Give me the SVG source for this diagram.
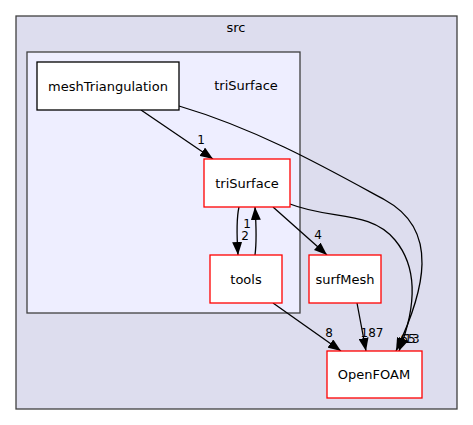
<svg xmlns="http://www.w3.org/2000/svg" width="473" height="425" viewBox="0 0 473 425">
<defs>
<style>
text{font-family:"DejaVu Sans",sans-serif;font-size:13px;fill:#000}
.c{text-anchor:middle}
.l{font-size:12px}
.node{fill:#fff;stroke:#ff0000;stroke-width:1.3}
.edge{fill:none;stroke:#000;stroke-width:1.3}
</style>
<marker id="ah" viewBox="0 0 13 10" refX="13" refY="5" markerWidth="13" markerHeight="10" markerUnits="userSpaceOnUse" orient="auto">
<path d="M0,0 L13,5 L0,10 Z" fill="#000"/>
</marker>
</defs>
<rect x="0" y="0" width="473" height="425" fill="#fff"/>
<g id="cluster_src">
<rect x="16" y="16" width="441" height="393" fill="#ddddee" stroke="#404040" stroke-width="1.3"/>
<text class="c" x="236" y="32">src</text>
</g>
<g id="cluster_triSurface">
<rect x="27" y="52" width="273" height="261" fill="#eeeeff" stroke="#404040" stroke-width="1.3"/>
<text class="c" x="246" y="90">triSurface</text>
</g>
<g id="connectors">
<path class="edge" d="M141,110 L213,159" marker-end="url(#ah)"/>
<text class="c l" x="201" y="144">1</text>
<path class="edge" d="M179,106 C260,130 330,170 385,200 C440,230 425,290 396,351" marker-end="url(#ah)"/>
<text class="c l" x="412" y="343">13</text>
<path class="edge" d="M290,204 C330,220 370,210 395,240 C420,270 415,310 399,351" marker-end="url(#ah)"/>
<text class="c l" x="408" y="343">65</text>
<path class="edge" d="M273,207 L327,255" marker-end="url(#ah)"/>
<text class="c l" x="318" y="239">4</text>
<path class="edge" d="M239,207 C236,220 237,240 238,255" marker-end="url(#ah)"/>
<text class="c l" x="245" y="240">2</text>
<path class="edge" d="M255,255 C257,240 256,222 255,207" marker-end="url(#ah)"/>
<text class="c l" x="247" y="228">1</text>
<path class="edge" d="M273,303 L341,351" marker-end="url(#ah)"/>
<text class="c l" x="329" y="337">8</text>
<path class="edge" d="M357,303 L366,351" marker-end="url(#ah)"/>
<text class="c l" x="372" y="337">187</text>
</g>
<g id="node_meshTriangulation">
<rect x="37" y="62" width="142" height="48" fill="#fff" stroke="#000" stroke-width="1.3"/>
<text class="c" x="108" y="91">meshTriangulation</text>
</g>
<g id="node_triSurface">
<rect class="node" x="204" y="159" width="86" height="48"/>
<text class="c" x="247" y="188">triSurface</text>
</g>
<g id="node_tools">
<rect class="node" x="210" y="255" width="72" height="48"/>
<text class="c" x="246" y="284">tools</text>
</g>
<g id="node_surfMesh">
<rect class="node" x="309" y="255" width="72" height="48"/>
<text class="c" x="345" y="284">surfMesh</text>
</g>
<g id="node_OpenFOAM">
<rect class="node" x="327" y="351" width="95" height="47"/>
<text class="c" x="374" y="379">OpenFOAM</text>
</g>
</svg>
